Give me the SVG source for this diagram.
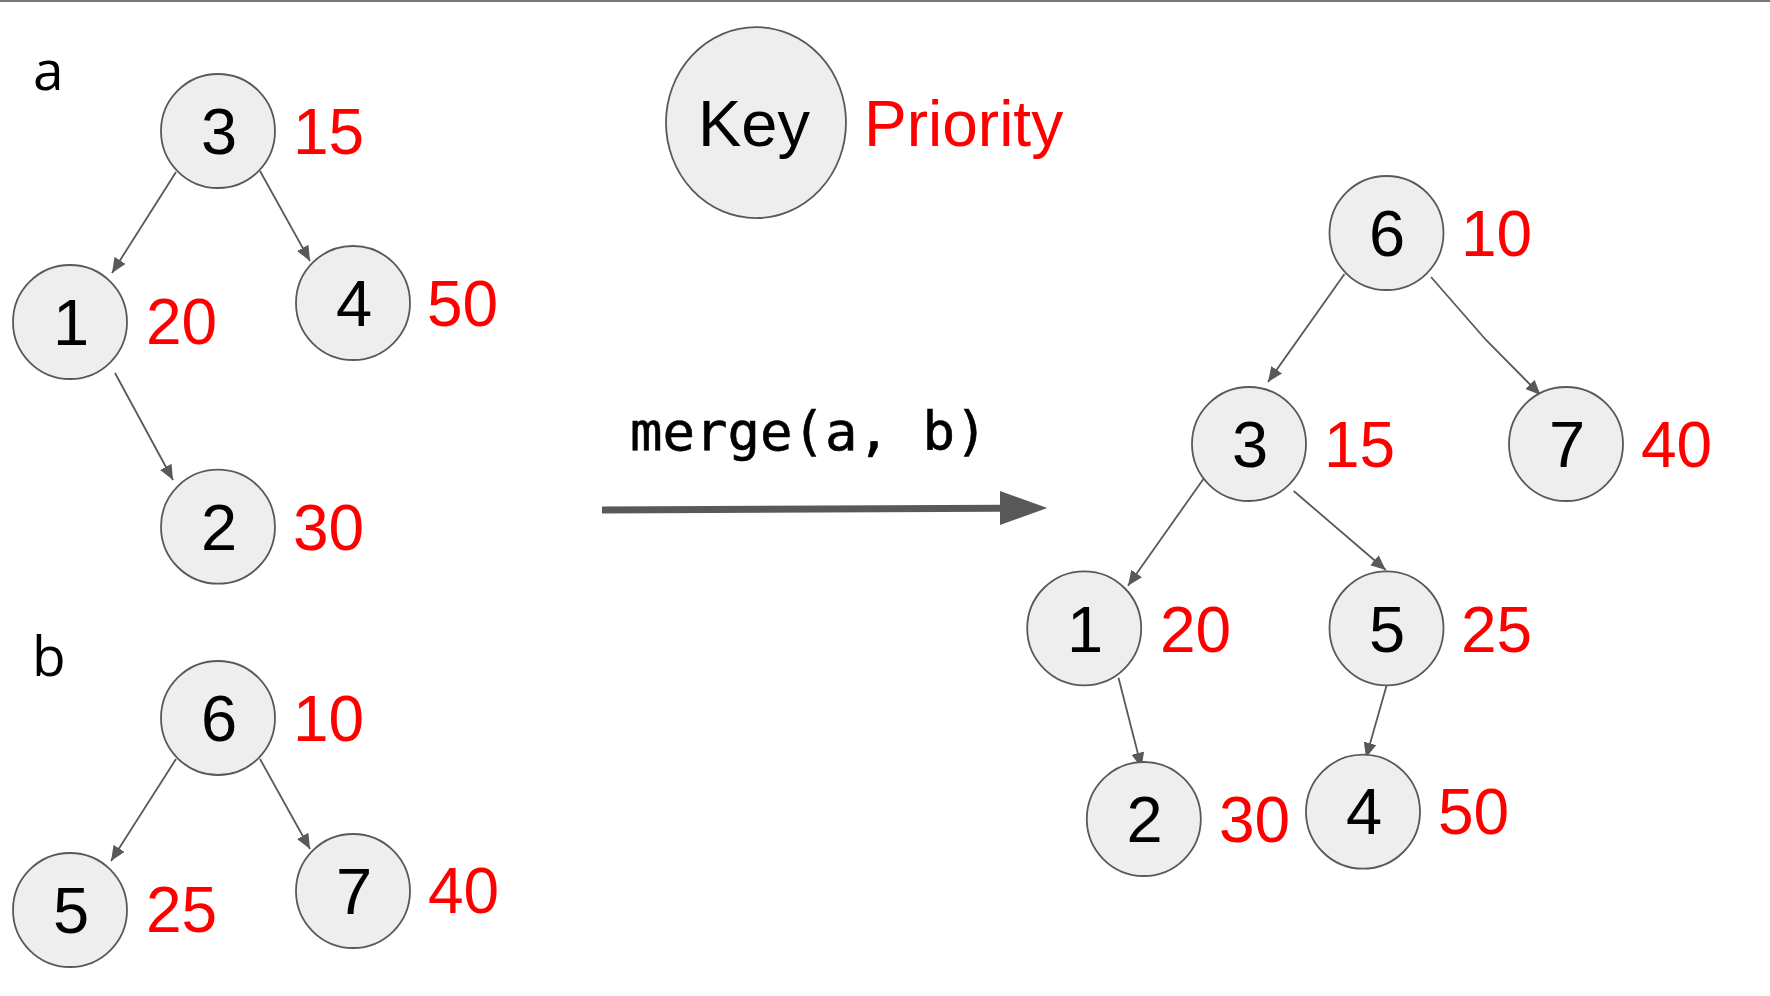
<svg xmlns="http://www.w3.org/2000/svg" width="1770" height="996" viewBox="0 0 1770 996">
<style>
.node{fill:#eeeeee;stroke:#595959;stroke-width:1.8}
.key{font-family:"Liberation Sans",Arial,sans-serif;font-size:65px;fill:#000;text-anchor:middle}
.pri{font-family:"Liberation Sans",Arial,sans-serif;font-size:64px;fill:#ff0000}
.lbl{font-family:"Open Sans",sans-serif;font-size:55px;fill:#000}
.edge{fill:none;stroke:#595959;stroke-width:1.8}
</style>
<defs>
<marker id="ah" markerUnits="userSpaceOnUse" markerWidth="16" markerHeight="14" refX="15" refY="6.5" orient="auto" viewBox="0 0 16 14">
<path d="M0,0 L15,6.5 L0,13 z" fill="#595959"/>
</marker>
</defs>
<rect x="0" y="0" width="1770" height="2" fill="#777777"/>
<text class="lbl" x="33" y="90">a</text>
<text class="lbl" x="32" y="676">b</text>
<g id="legend">
<ellipse class="node" cx="756" cy="122.6" rx="90" ry="95.5"/>
<text class="key" x="754" y="146">Key</text>
<text class="pri" x="864" y="146" style="text-anchor:start">Priority</text>
</g>
<g id="connectors">
<line class="edge" x1="176" y1="172" x2="112" y2="273" marker-end="url(#ah)"/>
<line class="edge" x1="260" y1="171" x2="310" y2="261" marker-end="url(#ah)"/>
<line class="edge" x1="115" y1="373" x2="173" y2="480" marker-end="url(#ah)"/>
<line class="edge" x1="176" y1="759" x2="111" y2="861" marker-end="url(#ah)"/>
<line class="edge" x1="260" y1="759" x2="310" y2="849" marker-end="url(#ah)"/>
<line class="edge" x1="1344.5" y1="274" x2="1268" y2="382" marker-end="url(#ah)"/>
<polyline class="edge" points="1431,277 1486,340 1540.5,395" marker-end="url(#ah)"/>
<line class="edge" x1="1204.8" y1="477" x2="1128" y2="585.7" marker-end="url(#ah)"/>
<line class="edge" x1="1293.7" y1="491" x2="1385.8" y2="570" marker-end="url(#ah)"/>
<line class="edge" x1="1118.5" y1="677.7" x2="1141.5" y2="767.7" marker-end="url(#ah)"/>
<line class="edge" x1="1386.5" y1="685.7" x2="1366" y2="757.7" marker-end="url(#ah)"/>
<g id="merge-arrow">
<line x1="602" y1="510" x2="1002" y2="508.3" stroke="#595959" stroke-width="7"/>
<polygon points="1000,491 1047.3,508 1000,525" fill="#595959"/>
<text x="630" y="449.5" style="font-family:'DejaVu Sans Mono',monospace;font-size:54px;fill:#000;stroke:#000;stroke-width:0.6">merge(a, b)</text>
</g>
</g>
<g id="a3"><circle class="node" cx="218" cy="131" r="57"/><text class="key" x="219" y="154">3</text><text class="pri" x="293" y="154">15</text></g>
<g id="a1"><circle class="node" cx="70" cy="322" r="57"/><text class="key" x="71" y="345">1</text><text class="pri" x="146" y="344">20</text></g>
<g id="a4"><circle class="node" cx="353" cy="303" r="57"/><text class="key" x="354" y="326">4</text><text class="pri" x="427" y="326">50</text></g>
<g id="a2"><circle class="node" cx="218" cy="526.7" r="57"/><text class="key" x="219" y="550">2</text><text class="pri" x="293" y="550">30</text></g>
<g id="b6"><circle class="node" cx="218" cy="718" r="57"/><text class="key" x="219" y="741">6</text><text class="pri" x="293" y="741">10</text></g>
<g id="b5"><circle class="node" cx="70" cy="910" r="57"/><text class="key" x="71" y="933">5</text><text class="pri" x="146" y="932">25</text></g>
<g id="b7"><circle class="node" cx="353" cy="891" r="57"/><text class="key" x="354" y="914">7</text><text class="pri" x="428" y="913">40</text></g>
<g id="m6"><circle class="node" cx="1386.5" cy="233" r="57"/><text class="key" x="1387" y="256">6</text><text class="pri" x="1461" y="256">10</text></g>
<g id="m3"><circle class="node" cx="1249" cy="444" r="57"/><text class="key" x="1250" y="467">3</text><text class="pri" x="1324" y="467">15</text></g>
<g id="m7"><circle class="node" cx="1566" cy="444" r="57"/><text class="key" x="1567" y="467">7</text><text class="pri" x="1641" y="467">40</text></g>
<g id="m1"><circle class="node" cx="1084.2" cy="628.3" r="57"/><text class="key" x="1085" y="651.5">1</text><text class="pri" x="1160" y="651.5">20</text></g>
<g id="m5"><circle class="node" cx="1386.5" cy="628.3" r="57"/><text class="key" x="1387" y="651.5">5</text><text class="pri" x="1461" y="651.5">25</text></g>
<g id="m2"><circle class="node" cx="1143.8" cy="819" r="57"/><text class="key" x="1144.5" y="842">2</text><text class="pri" x="1219" y="842">30</text></g>
<g id="m4"><circle class="node" cx="1363" cy="811.7" r="57"/><text class="key" x="1364" y="834">4</text><text class="pri" x="1438" y="834">50</text></g>
</svg>
